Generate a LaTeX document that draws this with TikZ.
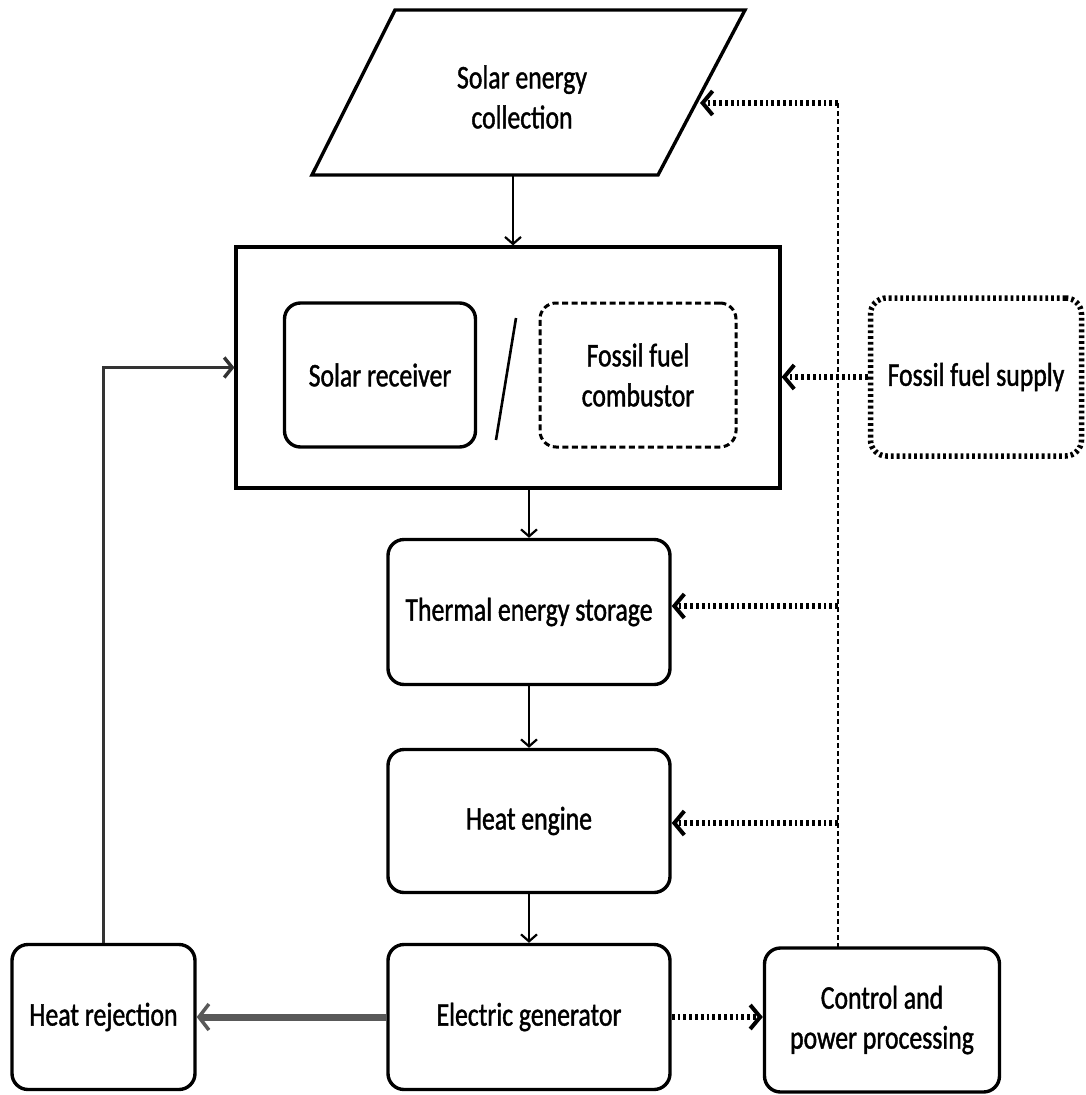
\documentclass[tikz,border=0pt]{standalone}
\usepackage{fontspec}
\setmainfont{Carlito}[FakeStretch=0.78,FakeBold=1.2]
\usetikzlibrary{arrows.meta}
\begin{document}
\begin{tikzpicture}[x=1pt,y=-1pt,
  txt/.style={align=center,font=\fontsize{33}{40}\selectfont,inner sep=0pt},
  rbox/.style={txt,draw,line width=3.4pt,rounded corners=16pt},
  dashbox/.style={rbox,line width=3pt,dash pattern=on 6pt off 3.5pt},
  dotbox/.style={rbox,line width=5.5pt,dash pattern=on 2.8pt off 3pt},
  flow/.style={line width=2.2pt,-{Straight Barb[length=7pt,width=16pt,line width=2.2pt]}},
  ctrl/.style={line width=6pt,dash pattern=on 2.8pt off 3pt,-{Straight Barb[length=10pt,width=24pt,line width=4pt]}},
  ctrlline/.style={line width=2.4pt,dash pattern=on 5pt off 3pt},
  reject/.style={line width=7pt,black!65,-{Straight Barb[length=10pt,width=26pt,line width=3.5pt]}},
  returnline/.style={line width=3.4pt,black!80,-{Straight Barb[length=8pt,width=20pt,line width=3.4pt]}}
]
\useasboundingbox[fill=white] (0,0) rectangle (1085,1095);
% solar energy collection (parallelogram)
\draw[line width=3.4pt,line join=miter] (395,10) -- (745,10) -- (658,175) -- (312,175) -- cycle;
\node[txt] (sec) at (522,97) {Solar energy\\collection};
\coordinate (secB) at (513,175);
\coordinate (secR) at (700,103);
% receiver/combustor group
\node[draw,line width=3.2pt,minimum width=544pt,minimum height=241pt,inner sep=0] (big) at (508,367.5) {};
\node[rbox,minimum width=191pt,minimum height=144pt] (sr) at (380,375) {Solar receiver};
\node[dashbox,minimum width=196pt,minimum height=144pt] (fc) at (638,375) {Fossil fuel\\combustor};
\coordinate (sl1) at (516,318);
\coordinate (sl2) at (496,440);
\draw[line width=2.6pt] (sl1) -- (sl2);
\node[dotbox,minimum width=211pt,minimum height=158pt] (fs) at (976,377) {Fossil fuel supply};
% chain
\node[rbox,minimum width=282pt,minimum height=145pt] (tes) at (529,612) {Thermal energy storage};
\node[rbox,minimum width=282pt,minimum height=143pt] (he) at (529,821) {Heat engine};
\node[rbox,minimum width=282pt,minimum height=145pt] (eg) at (529,1017) {Electric generator};
\node[rbox,minimum width=183pt,minimum height=145pt] (hr) at (103.5,1017) {Heat rejection};
\node[rbox,minimum width=235pt,minimum height=144pt] (cpp) at (882,1020) {Control and\\power processing};
% flows
\draw[flow] (secB) -- (secB |- big.north);
\draw[flow] (big.south -| tes.north) -- (tes.north);
\draw[flow] (tes.south) -- (he.north);
\draw[flow] (he.south) -- (eg.north);
\draw[reject] (eg.west) -- (hr.east);
\draw[returnline] (hr.north) |- (big.west);
\draw[ctrl] (fs.west) -- (fs.west -| big.east);
% control lines
\coordinate (vb) at (838,948);
\coordinate (vt) at (838,103);
\coordinate (vtes) at (838,606);
\coordinate (vhe) at (838,823);
\draw[ctrlline] (vb) -- (vt);
\draw[ctrl] (vt) -- (secR);
\draw[ctrl] (vtes) -- (vtes -| tes.east);
\draw[ctrl] (vhe) -- (vhe -| he.east);
\draw[ctrl] (eg.east) -- (eg.east -| cpp.west);
\end{tikzpicture}
\end{document}
